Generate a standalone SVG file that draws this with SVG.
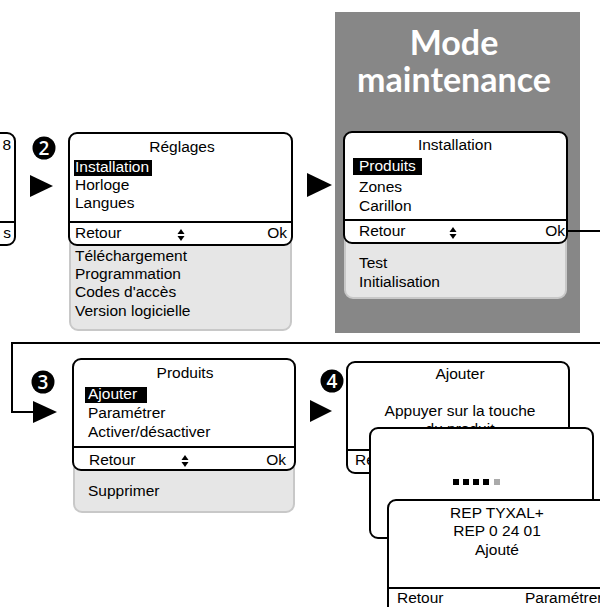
<svg xmlns="http://www.w3.org/2000/svg" width="600" height="607" viewBox="0 0 600 607">
<defs>
<style>
.scr{fill:#fff;stroke:#000;stroke-width:2}
.pan{fill:#e6e6e6;stroke:#c8c8c8;stroke-width:2}
.sep{stroke:#000;stroke-width:2}
.t{font-family:"Liberation Sans",Arial,sans-serif;font-size:15.5px;fill:#000}
.c{text-anchor:middle}
.r{text-anchor:end}
.w{fill:#fff}
.hl{fill:#000}
.num{fill:#000}
.numt{font-family:"Open Sans","DejaVu Sans",sans-serif;font-size:19px;font-weight:600;fill:#fff;text-anchor:middle}
.conn{fill:none;stroke:#000;stroke-width:2}
.title{font-family:Lato,"Open Sans",sans-serif;font-weight:bold;font-size:34px;fill:#fff;text-anchor:middle}
</style>
</defs>
<rect width="600" height="607" fill="#fff"/>

<g id="mode-maintenance">
<rect x="335" y="12" width="245" height="321" fill="#878787"/>
<text class="title" x="454" y="55">Mode</text>
<text class="title" x="454" y="92">maintenance</text>
</g>

<g id="screen-previous">
<rect class="scr" x="-210" y="133" width="225" height="112" rx="8"/>
<line class="sep" x1="-210" y1="222" x2="15" y2="222"/>
<text class="t r" x="11" y="150">8</text>
<text class="t r" x="11" y="238">s</text>
</g>

<g id="badge-2">
<circle class="num" cx="44" cy="148" r="11.5"/>
<text class="numt" x="44" y="155">2</text>
</g>

<g id="screen-reglages">
<rect class="pan" x="70" y="200" width="221" height="130" rx="8"/>
<rect class="scr" x="69" y="133" width="223" height="112" rx="8"/>
<line class="sep" x1="69" y1="222" x2="292" y2="222"/>
<text class="t c" x="182" y="152">Réglages</text>
<rect class="hl" x="74" y="160" width="78" height="16"/>
<text class="t w" x="75" y="172">Installation</text>
<text class="t" x="75" y="190">Horloge</text>
<text class="t" x="75" y="208">Langues</text>
<text class="t" x="75" y="238">Retour</text>
<polygon points="177.5,234 181,229 184.5,234"/>
<polygon points="177.5,236 184.5,236 181,241"/>
<text class="t r" x="287" y="238">Ok</text>
<text class="t" x="75" y="261">Téléchargement</text>
<text class="t" x="75" y="279">Programmation</text>
<text class="t" x="75" y="297">Codes d'accès</text>
<text class="t" x="75" y="316">Version logicielle</text>
</g>

<g id="screen-installation">
<rect class="pan" x="345" y="200" width="221" height="98" rx="8"/>
<rect class="scr" x="344" y="132" width="223" height="111" rx="8"/>
<line class="sep" x1="344" y1="220" x2="567" y2="220"/>
<text class="t c" x="455" y="150">Installation</text>
<rect class="hl" x="353" y="158" width="69" height="17"/>
<text class="t w" x="359" y="171">Produits</text>
<text class="t" x="359" y="192">Zones</text>
<text class="t" x="359" y="211">Carillon</text>
<text class="t" x="359" y="236">Retour</text>
<polygon points="449.5,232 453,227 456.5,232"/>
<polygon points="449.5,234 456.5,234 453,239"/>
<text class="t r" x="565" y="236">Ok</text>
<text class="t" x="359" y="268">Test</text>
<text class="t" x="359" y="287">Initialisation</text>
</g>

<g id="badge-3">
<circle class="num" cx="43" cy="382" r="11.5"/>
<text class="numt" x="43" y="389">3</text>
</g>

<g id="screen-produits">
<rect class="pan" x="74" y="420" width="220" height="92" rx="8"/>
<rect class="scr" x="73" y="359" width="222" height="111" rx="8"/>
<line class="sep" x1="73" y1="447" x2="295" y2="447"/>
<text class="t c" x="185" y="378">Produits</text>
<rect class="hl" x="85" y="387" width="62" height="16"/>
<text class="t w" x="88" y="399">Ajouter</text>
<text class="t" x="88" y="418">Paramétrer</text>
<text class="t" x="88" y="437">Activer/désactiver</text>
<text class="t" x="89" y="465">Retour</text>
<polygon points="181.5,460 185,455 188.5,460"/>
<polygon points="181.5,462 188.5,462 185,467"/>
<text class="t r" x="286" y="465">Ok</text>
<text class="t" x="88" y="496">Supprimer</text>
</g>

<g id="badge-4">
<circle class="num" cx="332" cy="381" r="11.5"/>
<text class="numt" x="332" y="388">4</text>
</g>

<g id="screen-ajouter">
<rect class="scr" x="347" y="362" width="222" height="111" rx="8"/>
<line class="sep" x1="347" y1="450" x2="569" y2="450"/>
<text class="t c" x="460" y="379">Ajouter</text>
<text class="t c" x="460" y="416">Appuyer sur la touche</text>
<text class="t c" x="460" y="434">du produit</text>
<text class="t" x="355" y="465">Retour</text>
</g>

<g id="screen-progress">
<rect class="scr" x="370" y="428" width="223" height="110" rx="8"/>
<rect x="453" y="479" width="6" height="6" fill="#000"/>
<rect x="463" y="479" width="6" height="6" fill="#000"/>
<rect x="473" y="479" width="6" height="6" fill="#000"/>
<rect x="483" y="479" width="6" height="6" fill="#000"/>
<rect x="494" y="479" width="6" height="6" fill="#aaa"/>
</g>

<g id="screen-ajoute">
<rect class="scr" x="388" y="500" width="223" height="125" rx="8"/>
<line class="sep" x1="388" y1="588" x2="611" y2="588"/>
<text class="t c" x="497" y="518">REP TYXAL+</text>
<text class="t c" x="497" y="536">REP 0 24 01</text>
<text class="t c" x="497" y="555">Ajouté</text>
<text class="t" x="397" y="603">Retour</text>
<text class="t" x="525" y="603">Paramétrer</text>
</g>

<g id="connectors">
<polygon points="30,175 53,186 30,197"/>
<polygon points="307,173 332,185 307,197"/>
<polyline class="conn" points="567,231 602,231"/>
<polyline class="conn" points="602,343 12,343 12,412 35,412"/>
<polygon points="33,401 57,412 33,423"/>
<polygon points="310,400 332,411 310,422"/>
</g>
</svg>
